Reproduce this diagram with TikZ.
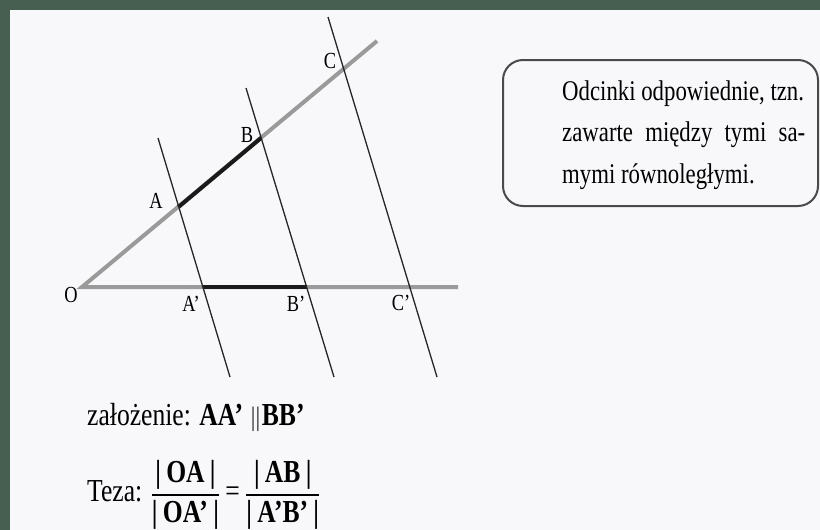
\documentclass[tikz,border=0pt]{standalone}
\usepackage{amsmath}
\usepackage{fontspec}
\setmainfont{Liberation Serif}[FakeStretch=0.8]
\definecolor{frame}{HTML}{465F50}
\definecolor{paper}{HTML}{F8F8FA}
\definecolor{ray}{HTML}{9A9A9A}
\definecolor{seg}{HTML}{1A1A1A}
\definecolor{boxline}{HTML}{4A4A4A}
\newcommand{\myfrac}[2]{\genfrac{}{}{1.6pt}{0}{#1}{#2}}
\tikzset{
  raystyle/.style={draw=ray, line width=4pt},
  segstyle/.style={draw=seg, line width=4pt},
  trans/.style={draw=black!85, line width=1.3pt},
  lbl/.style={inner sep=0pt, font=\fontsize{23}{26}\selectfont},
  boxtext/.style={inner sep=0pt, anchor=base west, font=\fontsize{28.5}{32}\selectfont},
  bottomtext/.style={inner sep=0pt, anchor=base west, font=\fontsize{32}{36}\selectfont},
}
\begin{document}
\begin{tikzpicture}[x=1pt,y=-1pt]
\useasboundingbox (0,0) rectangle (820,530);
\fill[frame] (0,0) rectangle (820,530);
\fill[paper] (10,10) rectangle (820,530);

% points
\coordinate (O) at (82,287);
\coordinate (Rend) at (377,41);
\coordinate (Hend) at (458,287);
\coordinate (A) at (178.5,207);
\coordinate (B) at (261,138);
\coordinate (C) at (343,68);
\coordinate (A') at (203,287);
\coordinate (B') at (306.5,287);
\coordinate (C') at (410,287);
\coordinate (At) at (158,138);
\coordinate (Ab) at (230,377);
\coordinate (Bt) at (246,88);
\coordinate (Bb) at (334,377);
\coordinate (Ct) at (328,17);
\coordinate (Cb) at (437,377);

% rays
\draw[raystyle] (Rend) -- (O) -- (Hend);
% segments
\draw[segstyle] (A) -- (B);
\draw[segstyle] (A') -- (B');
% parallel transversals
\draw[trans] (At) -- (Ab);
\draw[trans] (Bt) -- (Bb);
\draw[trans] (Ct) -- (Cb);

% labels
\node[lbl] (lO) at (71,295) {O};
\node[lbl] (lA) at (156,201) {A};
\node[lbl] (lB) at (247,135) {B};
\node[lbl] (lC) at (330,61) {C};
\node[lbl] (lA') at (191,304) {A’};
\node[lbl] (lB') at (296,304) {B’};
\node[lbl] (lC') at (401,303) {C’};

% comment box
\node[draw=boxline, line width=2pt, rounded corners=20pt, minimum width=315pt, minimum height=146pt, inner sep=0pt, anchor=north west] (box) at (502,59) {};
\node[boxtext] (t1) at (562,100) {Odcinki odpowiednie, tzn.};
\node[boxtext] (t2) at (562,141.5) {\makebox[243pt][s]{zawarte między tymi sa-}};
\node[boxtext] (t3) at (562,183) {mymi równoległymi.};

% bottom statements
\node[bottomtext] (zal) at (87,425) {założenie: \textbf{AA’}\ \(\|\)\textbf{BB’}};
\node[bottomtext] (teza) at (87,501) {Teza: \(\myfrac{\textbf{|\,OA\,|}}{\textbf{|\,OA’\,|}}\)\,=\,\(\myfrac{\textbf{|\,AB\,|}}{\textbf{|\,A’B’\,|}}\)};
\end{tikzpicture}
\end{document}
